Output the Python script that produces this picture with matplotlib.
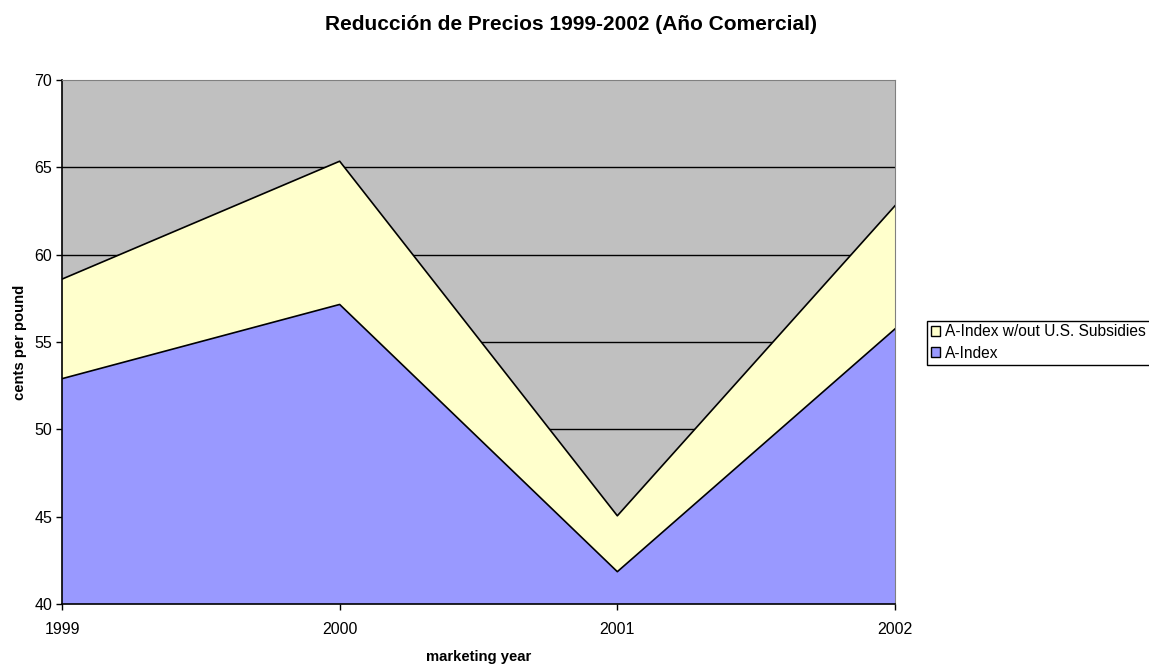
import matplotlib
matplotlib.use("Agg")
import matplotlib.pyplot as plt
from matplotlib.patches import Patch

years = [1999, 2000, 2001, 2002]
a_index = [52.9, 57.15, 41.85, 55.75]
a_index_wo_subsidies = [58.6, 65.35, 45.05, 62.8]
yticks = [40, 45, 50, 55, 60, 65, 70]

plt.rcParams['font.family'] = ['Liberation Sans', 'DejaVu Sans']

fig = plt.figure(figsize=(11.49, 6.64), dpi=100)
ax = fig.add_axes([62/1149, 60/664, (895-62)/1149, (604-80)/664])
ax.set_facecolor('#C0C0C0')

ax.set_xlim(years[0], years[-1])
ax.set_ylim(40, 70)
for y in yticks[1:-1]:
    ax.axhline(y, color='black', lw=1, zorder=1)

ax.fill_between(years, a_index, a_index_wo_subsidies, facecolor='#FFFFCC',
                edgecolor='none', zorder=2)
ax.fill_between(years, 40, a_index, facecolor='#9999FF', edgecolor='none', zorder=2)
ax.plot(years, a_index_wo_subsidies, color='black', lw=1.2, zorder=3)
ax.plot(years, a_index, color='black', lw=1.2, zorder=3)

ax.set_xticks(years)
ax.set_xticklabels([str(y) for y in years])
ax.set_yticks(yticks)
ax.tick_params(axis='both', direction='out', length=4, width=1, labelsize=11.5,
               color='black')
ax.tick_params(axis='x', pad=9)
ax.tick_params(axis='y', pad=3)
for s in ['top', 'right']:
    ax.spines[s].set_color('#808080')
for s in ['left', 'bottom']:
    ax.spines[s].set_color('black')
    ax.spines[s].set_linewidth(1.2)

ax.set_xlabel('marketing year', fontsize=10.7, fontweight='bold', labelpad=9)
ax.set_ylabel('cents per pound', fontsize=10.7, fontweight='bold', labelpad=5)

fig.text(571/1149, 1 - 24/664, 'Reducción de Precios 1999-2002 (Año Comercial)',
         ha='center', va='center', fontsize=15, fontweight='bold')

handles = [Patch(facecolor='#FFFFCC', edgecolor='black', label='A-Index w/out U.S. Subsidies'),
           Patch(facecolor='#9999FF', edgecolor='black', label='A-Index')]
leg = fig.legend(handles=handles, loc='upper left', bbox_to_anchor=(927/1149, 1 - 320.5/664),
                 fontsize=11.2, frameon=True, fancybox=False, framealpha=1,
                 handlelength=0.6, handleheight=0.6, handletextpad=0.3,
                 borderpad=0.25, labelspacing=0.4, borderaxespad=0)
leg.get_frame().set_edgecolor('black')
leg.get_frame().set_linewidth(1)

fig.savefig('out.png', dpi=100)
